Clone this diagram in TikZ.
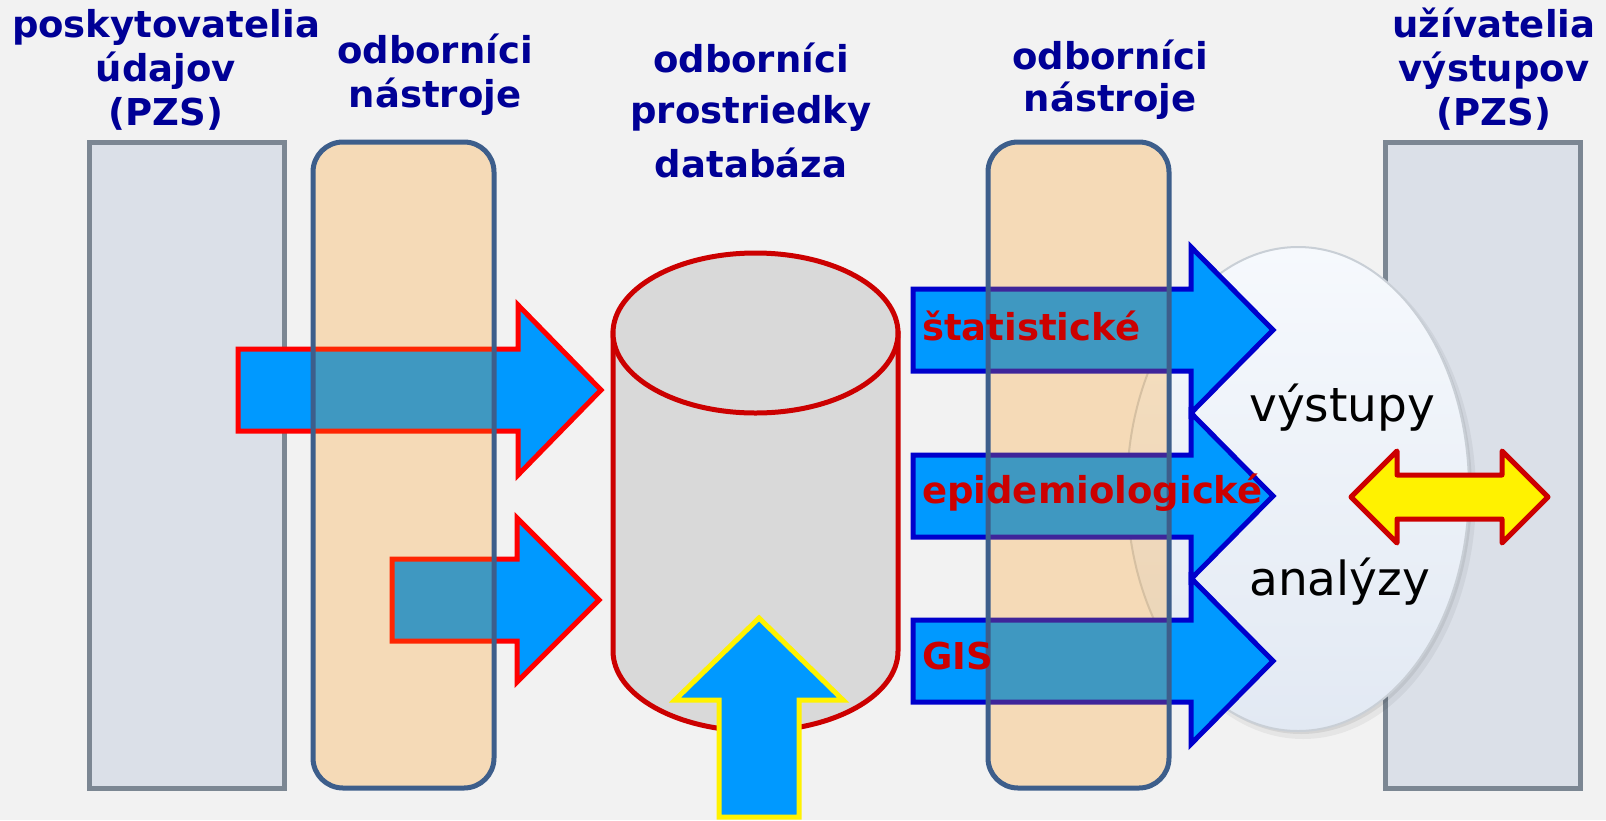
\documentclass[tikz,border=0pt]{standalone}
\usepackage{fontspec}
\setmainfont{DejaVu Sans}
\definecolor{bgc}{HTML}{F2F2F2}
\definecolor{panelfill}{HTML}{DBE0E8}
\definecolor{panelline}{HTML}{7C8793}
\definecolor{toolfill}{RGB}{254,150,8}
\definecolor{toolline}{HTML}{3D5E8B}
\definecolor{arrowblue}{HTML}{0099FF}
\definecolor{darkred}{HTML}{CC0000}
\definecolor{outblue}{HTML}{0000CC}
\definecolor{hdrblue}{RGB}{0,0,150}
\definecolor{cylfill}{HTML}{D9D9D9}
\definecolor{elltop}{HTML}{F6F9FD}
\definecolor{ellbot}{HTML}{E2E9F3}
\definecolor{ellline}{HTML}{C9CFD6}
\begin{document}
\begin{tikzpicture}[x=1pt,y=-1pt,line join=miter,
	hdr/.style={font=\fontsize{37}{44}\selectfont\bfseries,text=hdrblue,anchor=base,inner sep=0pt},
	lbl/.style={font=\fontsize{37}{44}\selectfont\bfseries,text=darkred,anchor=base west,inner sep=0pt},
	big/.style={font=\fontsize{47}{56}\selectfont,text=black,anchor=base west,inner sep=0pt},
	panel/.style={fill=panelfill,draw=panelline,line width=5pt},
	tool/.style={fill=toolfill,fill opacity=0.25,draw=toolline,line width=5pt,rounded corners=30pt},
	inarrow/.style={fill=arrowblue,draw=red,line width=5pt},
	uparrow/.style={fill=arrowblue,draw=yellow,line width=5pt},
	outarrow/.style={fill=arrowblue,draw=outblue,line width=5pt},
	dblarrow/.style={fill=yellow,draw=darkred,line width=5pt,line join=round},
	cyl/.style={fill=cylfill,draw=darkred,line width=5pt}]
	\fill[bgc] (0,0) rectangle (1606,820);
	\useasboundingbox (0,0) rectangle (1606,820);
	% hranice PZS
	\draw[panel] (89,142) rectangle (284,788);
	\draw[panel] (1385,142) rectangle (1580,788);
	% vystupy - elipsa s tienom
	\fill[black,opacity=0.05] (1303,495) ellipse [x radius=173,y radius=244];
	\fill[black,opacity=0.07] (1301,492) ellipse [x radius=171,y radius=242];
	\draw[ellline,line width=2pt,top color=elltop,bottom color=ellbot] (1298,489) ellipse [x radius=171,y radius=242];
	% databaza
	\filldraw[cyl] (613,333) -- (613,651) arc[start angle=180,end angle=0,x radius=142.5,y radius=80] -- (898,333) -- cycle;
	\filldraw[cyl] (755.5,333) ellipse [x radius=142.5,y radius=80];
	% vstupy
	\draw[inarrow] (238,349) -- (518,349) -- (518,305) -- (601,390) -- (518,475) -- (518,431) -- (238,431) -- cycle;
	\draw[inarrow] (392,559) -- (517,559) -- (517,518) -- (599,600) -- (517,682) -- (517,641) -- (392,641) -- cycle;
	\draw[uparrow] (719,817) -- (719,700) -- (675,700) -- (759,618) -- (843,700) -- (799,700) -- (799,817) -- cycle;
	\foreach \c in {330,496,661}
		\draw[outarrow] (913,\c-41) -- (1191,\c-41) -- (1191,\c-83) -- (1273,\c) -- (1191,\c+83) -- (1191,\c+41) -- (913,\c+41) -- cycle;
	% nastroje (priesvitne)
	\draw[tool] (313,142) rectangle (494,788);
	\draw[tool] (988,142) rectangle (1169,788);
	\node[lbl] (stat) at (922,340) {štatistické};
	\node[lbl] (epid) at (922,503) {epidemiologické};
	\node[lbl] (gis) at (922,669) {GIS};
	\node[big] (vyst) at (1249,421) {výstupy};
	\node[big] (anal) at (1249,595) {analýzy};
	\draw[dblarrow] (1351,497) -- (1397,451) -- (1397,475) -- (1502,475) -- (1502,451) -- (1548,497) -- (1502,543) -- (1502,519) -- (1397,519) -- (1397,543) -- cycle;
	% nadpisy
	\node[hdr] (prov1) at (166,37) {poskytovatelia};
	\node[hdr] (prov2) at (166,81) {údajov};
	\node[hdr] (prov3) at (166,125) {(PZS)};
	\node[hdr] (toolA1) at (435,63) {odborníci};
	\node[hdr] (toolA2) at (435,107) {nástroje};
	\node[hdr] (db1) at (751,72) {odborníci};
	\node[hdr] (db2) at (751,123) {prostriedky};
	\node[hdr] (db3) at (751,177) {databáza};
	\node[hdr] (toolB1) at (1110,69) {odborníci};
	\node[hdr] (toolB2) at (1110,111) {nástroje};
	\node[hdr] (user1) at (1494,37) {užívatelia};
	\node[hdr] (user2) at (1494,81) {výstupov};
	\node[hdr] (user3) at (1494,125) {(PZS)};
\end{tikzpicture}
\end{document}
